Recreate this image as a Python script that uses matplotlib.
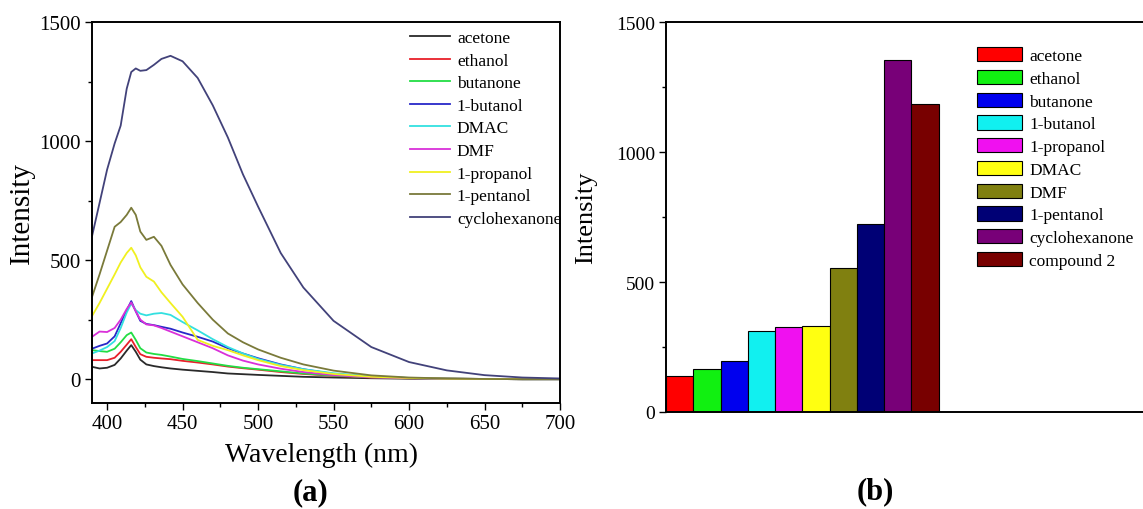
import numpy as np
import matplotlib
matplotlib.use('Agg')
import matplotlib.pyplot as plt
from matplotlib.ticker import MultipleLocator

plt.rcParams['font.family'] = ['Liberation Serif', 'DejaVu Serif']

# ---- (a) emission spectra ----
wl = [390, 395, 400, 405, 409, 413, 416, 419, 422, 426, 431, 436, 442, 450,
      460, 470, 480, 490, 500, 515, 530, 550, 575, 600, 625, 650, 675, 700]

acetone = [52, 45, 48, 60, 87, 120, 143, 115, 82, 62, 55, 50, 45, 40,
           35, 30, 24, 21, 18, 14, 10, 7, 4, 2, 1, 1, 0, 0]
ethanol = [80, 80, 80, 90, 115, 145, 168, 135, 105, 94, 90, 87, 84, 77,
           70, 62, 53, 46, 40, 30, 22, 14, 7, 4, 2, 1, 0, 0]
butanone = [122, 118, 115, 128, 155, 185, 196, 165, 130, 112, 106, 102, 95, 85,
            76, 66, 56, 48, 42, 33, 24, 15, 8, 4, 2, 1, 0, 0]
butanol = [128, 140, 150, 180, 235, 290, 328, 285, 245, 232, 227, 220, 212, 196,
           178, 158, 130, 108, 88, 62, 42, 22, 10, 5, 2, 1, 0, 0]
dmac = [108, 120, 135, 160, 215, 280, 318, 290, 275, 268, 275, 278, 270, 240,
        205, 168, 135, 108, 85, 60, 42, 25, 12, 5, 2, 1, 0, 0]
dmf = [178, 200, 198, 215, 250, 295, 322, 285, 250, 230, 226, 215, 200, 180,
       155, 130, 100, 78, 62, 44, 30, 17, 8, 4, 2, 1, 0, 0]
propanol = [265, 320, 380, 440, 490, 530, 552, 520, 470, 430, 410, 365, 320, 262,
            165, 140, 122, 100, 80, 55, 38, 22, 10, 5, 2, 1, 0, 0]
pentanol = [345, 440, 540, 640, 660, 690, 720, 690, 620, 585, 598, 560, 480, 398,
            320, 250, 192, 155, 125, 90, 62, 36, 16, 7, 3, 1, 0, 0]
cyclohex = [600, 740, 880, 990, 1065, 1220, 1290, 1305, 1295, 1298, 1320, 1345, 1358, 1335,
            1265, 1150, 1015, 860, 725, 530, 385, 245, 135, 72, 37, 17, 7, 3]

spec_names = ['acetone', 'ethanol', 'butanone', '1-butanol', 'DMAC', 'DMF',
              '1-propanol', '1-pentanol', 'cyclohexanone']
spec_data = [acetone, ethanol, butanone, butanol, dmac, dmf, propanol, pentanol, cyclohex]
spec_colors = ['#2a2a2a', '#e8202a', '#22dd44', '#2828c8', '#33e0e0', '#d930d9',
               '#f0f020', '#7a7a3a', '#42427a']

# ---- (b) bar chart ----
bar_names = ['acetone', 'ethanol', 'butanone', '1-butanol', '1-propanol', 'DMAC',
             'DMF', '1-pentanol', 'cyclohexanone', 'compound 2']
bar_vals = [137, 164, 195, 310, 327, 329, 554, 724, 1353, 1186]
bar_colors = ['#ff0000', '#11f011', '#0000ee', '#11f0f0', '#f010f0', '#ffff11',
              '#808010', '#000075', '#780078', '#780000']

fig = plt.figure(figsize=(11.43, 5.10), dpi=100)

ax = fig.add_axes([92/1143, 1 - 404/510, 468/1143, 381/510])
for name, d, c in zip(spec_names, spec_data, spec_colors):
    ax.plot(wl, d, color=c, lw=1.3, label=name)
ax.set_xlim(390, 700)
ax.set_ylim(-100, 1500)
ax.set_xticks([400, 450, 500, 550, 600, 650, 700])
ax.xaxis.set_minor_locator(MultipleLocator(25))
ax.set_yticks([0, 500, 1000, 1500])
ax.yaxis.set_minor_locator(MultipleLocator(250))
ax.tick_params(which='major', direction='out', length=5, width=1, labelsize=15, pad=3)
ax.tick_params(which='minor', direction='out', length=3, width=1)
for s in ax.spines.values():
    s.set_linewidth(1.4)
ax.set_xlabel('Wavelength (nm)', fontsize=20)
ax.xaxis.set_label_coords(0.49, -0.103)
ax.set_ylabel('Intensity', fontsize=21)
ax.yaxis.set_label_coords(-0.122, 0.5)
ax.legend(loc='upper left', bbox_to_anchor=(410/1143, 1 - 31/510),
          bbox_transform=fig.transFigure, frameon=False, fontsize=12.5,
          handlelength=2.3, handletextpad=0.4, labelspacing=0.37,
          borderpad=0, borderaxespad=0)

bx = fig.add_axes([666/1143, 1 - 413/510, 477/1143, 390/510])
for i, (name, v, c) in enumerate(zip(bar_names, bar_vals, bar_colors)):
    bx.bar(i, v, width=1, align='edge', color=c, edgecolor='black', lw=0.8, label=name)
bx.set_xlim(0, 17.5)
bx.set_ylim(0, 1500)
bx.set_xticks([])
bx.set_yticks([0, 500, 1000, 1500])
bx.yaxis.set_minor_locator(MultipleLocator(250))
bx.tick_params(which='major', direction='out', length=5, width=1, labelsize=14, pad=3)
bx.tick_params(which='minor', direction='out', length=3, width=1)
bx.spines['right'].set_visible(False)
for s in ['left', 'top', 'bottom']:
    bx.spines[s].set_linewidth(1.4)
bx.set_ylabel('Intensity', fontsize=19)
bx.yaxis.set_label_coords(-0.145, 0.5)
bx.legend(loc='upper left', bbox_to_anchor=(977/1143, 1 - 48/510),
          bbox_transform=fig.transFigure, frameon=False, fontsize=12.5,
          handlelength=2.6, handleheight=0.9, handletextpad=0.4, labelspacing=0.32,
          borderpad=0, borderaxespad=0)

fig.text(310/1143, 1 - 493/510, '(a)', fontsize=22, fontweight='bold', ha='center', va='center')
fig.text(875/1143, 1 - 492/510, '(b)', fontsize=22, fontweight='bold', ha='center', va='center')

fig.savefig('out.png', dpi=100)
